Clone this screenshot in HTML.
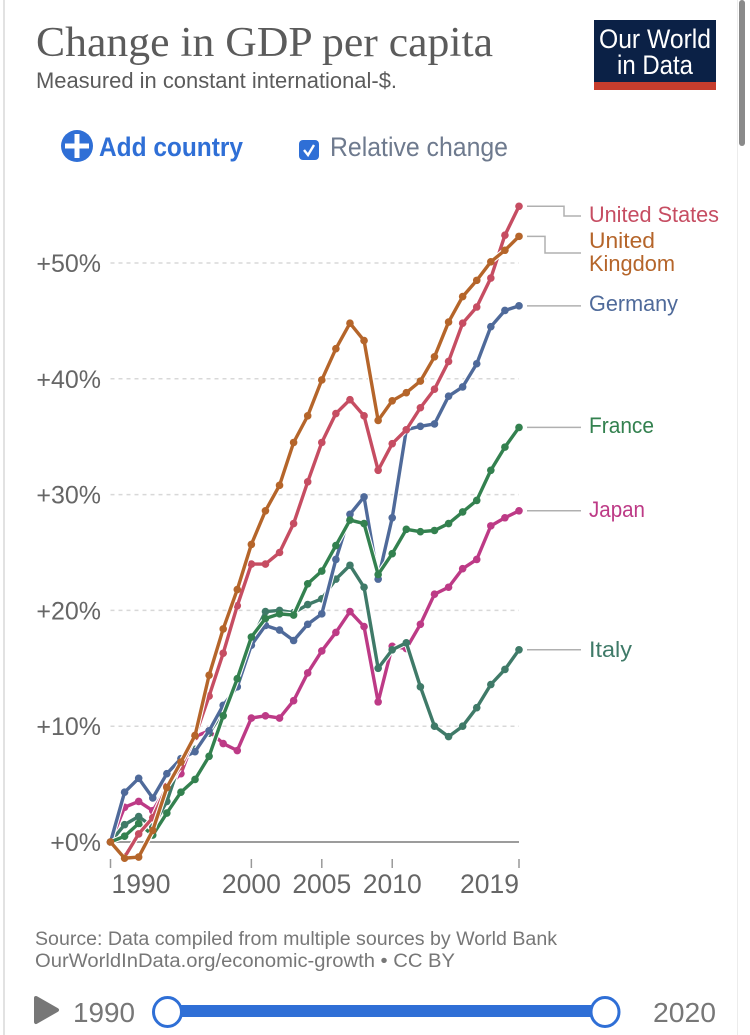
<!DOCTYPE html>
<html lang="en">
<head>
<meta charset="utf-8">
<title>Change in GDP per capita</title>
<style>
html,body{margin:0;padding:0;background:#fff;width:750px;height:1035px;overflow:hidden}
svg{display:block}
text{font-family:"Liberation Sans",sans-serif}
</style>
</head>
<body>
<svg id="chart" xmlns="http://www.w3.org/2000/svg" width="750" height="1035" viewBox="0 0 750 1035">
  <rect x="3" y="0" width="2" height="1035" fill="#e2e2e2"/>
  <rect x="737" y="0" width="1" height="1035" fill="#ececec"/>
  <rect x="739" y="0" width="6" height="146" rx="3" fill="#8a8a8a"/>

  <text x="36" y="56" font-size="42" fill="#5b5b5b" textLength="457" lengthAdjust="spacingAndGlyphs" style="font-family:'Liberation Serif',serif">Change in GDP per capita</text>
  <text x="36" y="88" font-size="22" fill="#5b5b5b" textLength="361" lengthAdjust="spacingAndGlyphs">Measured in constant international-$.</text>

  <g>
    <rect x="594" y="20" width="122" height="70" fill="#0b2146"/>
    <rect x="594" y="82" width="122" height="8" fill="#c63d2d"/>
    <text x="655" y="48" font-size="27" fill="#fff" text-anchor="middle" textLength="112" lengthAdjust="spacingAndGlyphs">Our World</text>
    <text x="655" y="74" font-size="27" fill="#fff" text-anchor="middle" textLength="76" lengthAdjust="spacingAndGlyphs">in Data</text>
  </g>

  <g>
    <circle cx="77" cy="146" r="16" fill="#2f6fd6"/>
    <rect x="65" y="143.5" width="24" height="5" fill="#fff"/>
    <rect x="74.5" y="134" width="5" height="24" fill="#fff"/>
    <text x="99" y="156" font-size="27" font-weight="bold" fill="#2f6fd6" textLength="144" lengthAdjust="spacingAndGlyphs">Add country</text>
  </g>

  <g>
    <rect x="299" y="140" width="20" height="20" rx="4" fill="#2f6fd6"/>
    <polyline points="304,150 308,155 314,145" fill="none" stroke="#fff" stroke-width="2.4"/>
    <text x="330" y="156" font-size="27" fill="#6e7a8e" textLength="178" lengthAdjust="spacingAndGlyphs">Relative change</text>
  </g>

  <g id="grid"></g>
  <g id="yLabels"></g>
  <g id="xAxis"></g>
  <g id="connectors"></g>
  <g id="series"></g>
  <g id="labels"></g>

  <text x="35" y="945" font-size="19" fill="#777" textLength="522" lengthAdjust="spacingAndGlyphs">Source: Data compiled from multiple sources by World Bank</text>
  <text x="35" y="967" font-size="19" fill="#777" textLength="420" lengthAdjust="spacingAndGlyphs">OurWorldInData.org/economic-growth • CC BY</text>

  <polygon points="36,998 57,1010 36,1022" fill="#777" stroke="#777" stroke-width="4" stroke-linejoin="round"/>
  <text x="73" y="1022" font-size="28" fill="#777" textLength="62" lengthAdjust="spacingAndGlyphs">1990</text>
  <rect x="170" y="1005" width="430" height="12" fill="#2f6fd6"/>
  <ellipse cx="167.5" cy="1012" rx="14" ry="14.5" fill="#fff" stroke="#2f6fd6" stroke-width="3"/>
  <ellipse cx="605" cy="1012" rx="14" ry="14.5" fill="#fff" stroke="#2f6fd6" stroke-width="3"/>
  <text x="653" y="1022" font-size="28" fill="#777" textLength="63" lengthAdjust="spacingAndGlyphs">2020</text>
</svg>

<script>
const years = [1990,1991,1992,1993,1994,1995,1996,1997,1998,1999,2000,2001,2002,2003,2004,2005,2006,2007,2008,2009,2010,2011,2012,2013,2014,2015,2016,2017,2018,2019];
const usa = [0,-1.3,0.7,2.1,4.8,6.5,9.1,12.6,16.3,20.4,24.0,24.0,25.0,27.5,31.1,34.5,37.0,38.2,36.8,32.1,34.4,35.6,37.5,39.1,41.5,44.8,46.2,48.7,52.4,54.9];
const uk = [0,-1.4,-1.3,1.0,4.7,6.9,9.2,14.4,18.4,21.8,25.7,28.6,30.8,34.5,36.8,39.9,42.6,44.8,43.3,36.4,38.1,38.8,39.8,41.9,44.9,47.1,48.5,50.1,51.1,52.3];
const germany = [0,4.3,5.5,3.8,5.9,7.2,7.8,9.6,11.8,13.4,17.0,18.7,18.3,17.4,18.8,19.7,24.4,28.3,29.8,22.7,28.0,35.6,35.9,36.1,38.5,39.3,41.3,44.5,45.9,46.3];
const france = [0,0.5,1.6,0.6,2.5,4.3,5.4,7.4,10.9,14.1,17.7,19.3,19.7,19.6,22.3,23.4,25.6,27.8,27.5,23.1,24.9,27.0,26.8,26.9,27.5,28.5,29.5,32.1,34.1,35.8];
const japan = [0,3.0,3.5,2.7,4.7,5.9,9.1,9.6,8.5,7.9,10.7,10.9,10.7,12.2,14.6,16.5,18.1,19.9,18.6,12.1,16.9,16.7,18.8,21.4,22.0,23.6,24.4,27.3,28.0,28.6];
const italy = [0,1.5,2.2,1.3,3.5,7.1,8.0,9.4,11.3,14.0,17.4,19.9,20.0,19.8,20.5,21.0,22.7,23.9,22.0,15.0,16.6,17.2,13.4,10.0,9.1,10.0,11.6,13.6,14.9,16.6];
const yTickValues = [0,10,20,30,40,50];
const yTickLabels = ["+0%","+10%","+20%","+30%","+40%","+50%"];
const xTickYears = [1990,2000,2005,2010,2019];
const xTickLabels = ["1990","2000","2005","2010","2019"];

const NS = "http://www.w3.org/2000/svg";
const xScale = function (year) { return 110.5 + (year - 1990) * (519 - 110.5) / 29; };
const yScale = function (value) { return 842 - value * 11.58; };

function make(tag, parent, attrs, content) {
  const el = document.createElementNS(NS, tag);
  for (const key in attrs) el.setAttribute(key, attrs[key]);
  if (content !== undefined) el.textContent = content;
  parent.appendChild(el);
  return el;
}

const grid = document.getElementById("grid");
const yLabels = document.getElementById("yLabels");
yTickValues.forEach(function (value, i) {
  const line = make("line", grid, value === 0
    ? {x1: xScale(1990), x2: xScale(2019), y1: yScale(value), y2: yScale(value), stroke: "#9c9c9c", "stroke-width": 2}
    : {x1: xScale(1990), x2: xScale(2019), y1: yScale(value), y2: yScale(value), stroke: "#d8d8d8", "stroke-width": 1.5, "stroke-dasharray": "4 4"});
  
  
  const label = make("text", yLabels, {x: 101, y: yScale(value) + 9, "font-size": 25, fill: "#666", "text-anchor": "end"}, yTickLabels[i]);
  
  
});

const xAxis = document.getElementById("xAxis");
xTickYears.forEach(function (year, i) {
  const tick = make("line", xAxis, {x1: xScale(year), x2: xScale(year), y1: 859, y2: 868, stroke: "#999", "stroke-width": 1.5});
  
  
  const anchor = i === 0 ? "start" : (i === xTickYears.length - 1 ? "end" : "middle");
  const label = make("text", xAxis, {x: xScale(year) + (i === 0 ? 1 : 0), y: 893, "font-size": 26.5, fill: "#666", "text-anchor": anchor}, xTickLabels[i]);
  
  
});

const japanSeries = {key: "japan", values: japan, color: "#bd3a86"};
const italySeries = {key: "italy", values: italy, color: "#3f7a68"};
const germanySeries = {key: "germany", values: germany, color: "#4f6a9a"};
const franceSeries = {key: "france", values: france, color: "#33814f"};
const usaSeries = {key: "united-states", values: usa, color: "#c64d62"};
const ukSeries = {key: "united-kingdom", values: uk, color: "#b5652a"};
const drawOrder = [japanSeries, italySeries, germanySeries, franceSeries, usaSeries, ukSeries];

const seriesLayer = document.getElementById("series");
drawOrder.forEach(function (s) {
  const group = make("g", seriesLayer, {});
  
  
  const pts = s.values.map(function (v, i) { return xScale(years[i]).toFixed(2) + "," + yScale(v).toFixed(2); }).join(" ");
  const halo = make("polyline", group, {points: pts, fill: "none", stroke: "#fff", "stroke-width": 5.5, "stroke-linejoin": "round"});
  
  
  const line = make("polyline", group, {points: pts, fill: "none", stroke: s.color, "stroke-width": 3.4, "stroke-linejoin": "round"});
  
  
  s.values.forEach(function (v, i) {
    const dot = make("circle", group, {cx: xScale(years[i]), cy: yScale(v), r: 3.8, fill: s.color});
    
    
  });
});

const seriesLabelRows = [
  {s: usaSeries, lines: ["United States"], widths: [130], top: 222, join: 216, elbow: 564},
  {s: ukSeries, lines: ["United", "Kingdom"], widths: [66, 86], top: 248, join: 253, elbow: 545},
  {s: germanySeries, lines: ["Germany"], widths: [89], top: 311},
  {s: franceSeries, lines: ["France"], widths: [65], top: 433},
  {s: japanSeries, lines: ["Japan"], widths: [56], top: 517},
  {s: italySeries, lines: ["Italy"], widths: [43], top: 657}
];
const connectors = document.getElementById("connectors");
const labelsLayer = document.getElementById("labels");
seriesLabelRows.forEach(function (row) {
  const last = row.s.values[row.s.values.length - 1];
  const y0 = yScale(last);
  const d = row.elbow
    ? "M527 " + y0 + " H" + row.elbow + " V" + row.join + " H581"
    : "M527 " + y0 + " H581";
  const path = make("path", connectors, {d: d, fill: "none", stroke: "#b0b0b0", "stroke-width": 1.5});
  
  
  row.lines.forEach(function (txt, i) {
    const t = make("text", labelsLayer, {x: 589, y: row.top + i * 23, "font-size": 22, fill: row.s.color, textLength: row.widths[i], lengthAdjust: "spacingAndGlyphs"}, txt);
    
    
  });
});
</script>
</body>
</html>
